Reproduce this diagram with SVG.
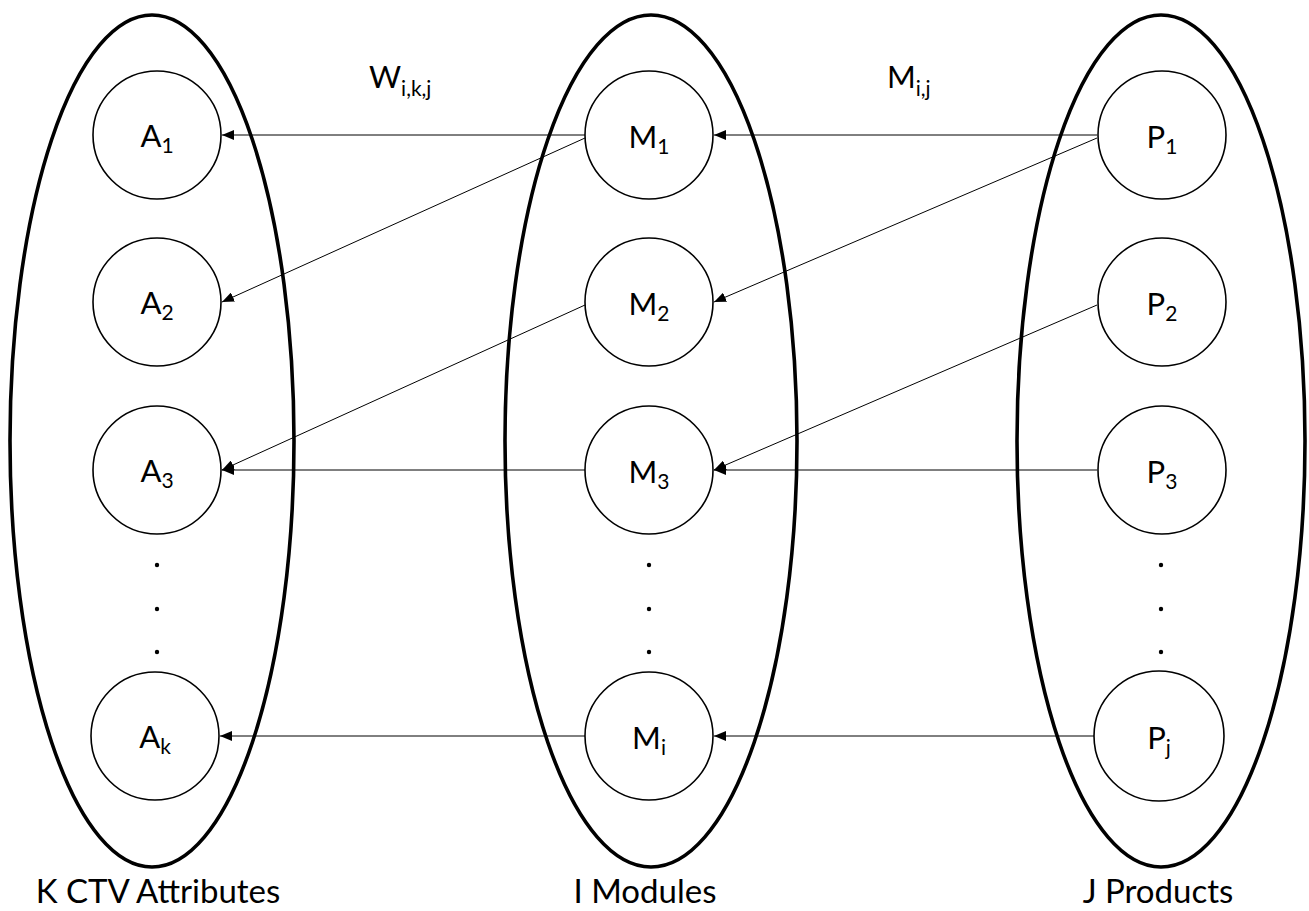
<svg xmlns="http://www.w3.org/2000/svg" width="1309" height="911" viewBox="0 0 1309 911">
<defs>
<marker id="arr" viewBox="0 0 12 10" refX="12" refY="5" markerWidth="12" markerHeight="10" markerUnits="userSpaceOnUse" orient="auto">
<path d="M0,0 L12,5 L0,10 Z" fill="#000"/>
</marker>
</defs>
<style>
.grp{fill:none;stroke:#000;stroke-width:3.6}
.node{fill:#fff;stroke:#000;stroke-width:1.6}
.lbl{font-family:Lato,"Open Sans","Liberation Sans",sans-serif;font-size:31px;fill:#000}
.sub{font-size:21px}
.big{font-family:Lato,"Open Sans","Liberation Sans",sans-serif;font-size:33px;fill:#000}
.edge{stroke:#000;stroke-width:1;fill:none;marker-end:url(#arr)}
.dot{fill:#000}
</style>
<rect width="1309" height="911" fill="#fff"/>
<g id="groups">
<ellipse class="grp" cx="152" cy="441" rx="142" ry="426"/>
<ellipse class="grp" cx="651" cy="441" rx="146" ry="426"/>
<ellipse class="grp" cx="1161" cy="441" rx="144" ry="426"/>
</g>
<g id="connectors">
<line class="edge" x1="585" y1="135" x2="222" y2="135"/>
<line class="edge" x1="585" y1="138" x2="222" y2="302"/>
<line class="edge" x1="585" y1="305" x2="222" y2="470"/>
<line class="edge" x1="585" y1="470" x2="222" y2="470"/>
<line class="edge" x1="585" y1="736" x2="220" y2="736"/>
<line class="edge" x1="1097" y1="135" x2="714" y2="135"/>
<line class="edge" x1="1097" y1="138" x2="714" y2="302"/>
<line class="edge" x1="1097" y1="305" x2="714" y2="470"/>
<line class="edge" x1="1097" y1="470" x2="714" y2="470"/>
<line class="edge" x1="1094" y1="736" x2="714" y2="736"/>
</g>
<g id="A1"><circle class="node" cx="157" cy="135" r="64"/><text class="lbl" x="157" y="147" text-anchor="middle">A<tspan class="sub" dy="6">1</tspan></text></g>
<g id="A2"><circle class="node" cx="157" cy="302" r="64"/><text class="lbl" x="157" y="314" text-anchor="middle">A<tspan class="sub" dy="6">2</tspan></text></g>
<g id="A3"><circle class="node" cx="157" cy="470" r="64"/><text class="lbl" x="157" y="482" text-anchor="middle">A<tspan class="sub" dy="6">3</tspan></text></g>
<g id="Ak"><circle class="node" cx="155" cy="736" r="64"/><text class="lbl" x="155" y="748" text-anchor="middle">A<tspan class="sub" dy="6">k</tspan></text></g>
<g id="M1"><circle class="node" cx="649" cy="135" r="64"/><text class="lbl" x="649" y="148" text-anchor="middle">M<tspan class="sub" dy="6">1</tspan></text></g>
<g id="M2"><circle class="node" cx="649" cy="302" r="64"/><text class="lbl" x="649" y="315" text-anchor="middle">M<tspan class="sub" dy="6">2</tspan></text></g>
<g id="M3"><circle class="node" cx="649" cy="470" r="64"/><text class="lbl" x="649" y="483" text-anchor="middle">M<tspan class="sub" dy="6">3</tspan></text></g>
<g id="Mi"><circle class="node" cx="649" cy="736" r="64"/><text class="lbl" x="649" y="749" text-anchor="middle">M<tspan class="sub" dy="6">i</tspan></text></g>
<g id="P1"><circle class="node" cx="1162" cy="135" r="64"/><text class="lbl" x="1162" y="148" text-anchor="middle">P<tspan class="sub" dy="6">1</tspan></text></g>
<g id="P2"><circle class="node" cx="1162" cy="302" r="64"/><text class="lbl" x="1162" y="315" text-anchor="middle">P<tspan class="sub" dy="6">2</tspan></text></g>
<g id="P3"><circle class="node" cx="1162" cy="470" r="64"/><text class="lbl" x="1162" y="483" text-anchor="middle">P<tspan class="sub" dy="6">3</tspan></text></g>
<g id="Pj"><circle class="node" cx="1159" cy="736" r="65"/><text class="lbl" x="1159" y="749" text-anchor="middle">P<tspan class="sub" dy="6">j</tspan></text></g>
<g id="dots">
<circle class="dot" cx="157" cy="565" r="2.2"/><circle class="dot" cx="157" cy="609" r="2.2"/><circle class="dot" cx="157" cy="652" r="2.2"/>
<circle class="dot" cx="649" cy="565" r="2.2"/><circle class="dot" cx="649" cy="609" r="2.2"/><circle class="dot" cx="649" cy="652" r="2.2"/>
<circle class="dot" cx="1161" cy="565" r="2.2"/><circle class="dot" cx="1161" cy="609" r="2.2"/><circle class="dot" cx="1161" cy="652" r="2.2"/>
</g>
<g id="edge-labels">
<text class="lbl" x="369" y="88">W<tspan class="sub" dy="8">i,k,j</tspan></text>
<text class="lbl" x="887" y="88">M<tspan class="sub" dy="8">i,j</tspan></text>
</g>
<g id="group-labels">
<text class="big" x="158" y="903" text-anchor="middle">K CTV Attributes</text>
<text class="big" x="645" y="903" text-anchor="middle">I Modules</text>
<text class="big" x="1158" y="903" text-anchor="middle">J Products</text>
</g>
</svg>
